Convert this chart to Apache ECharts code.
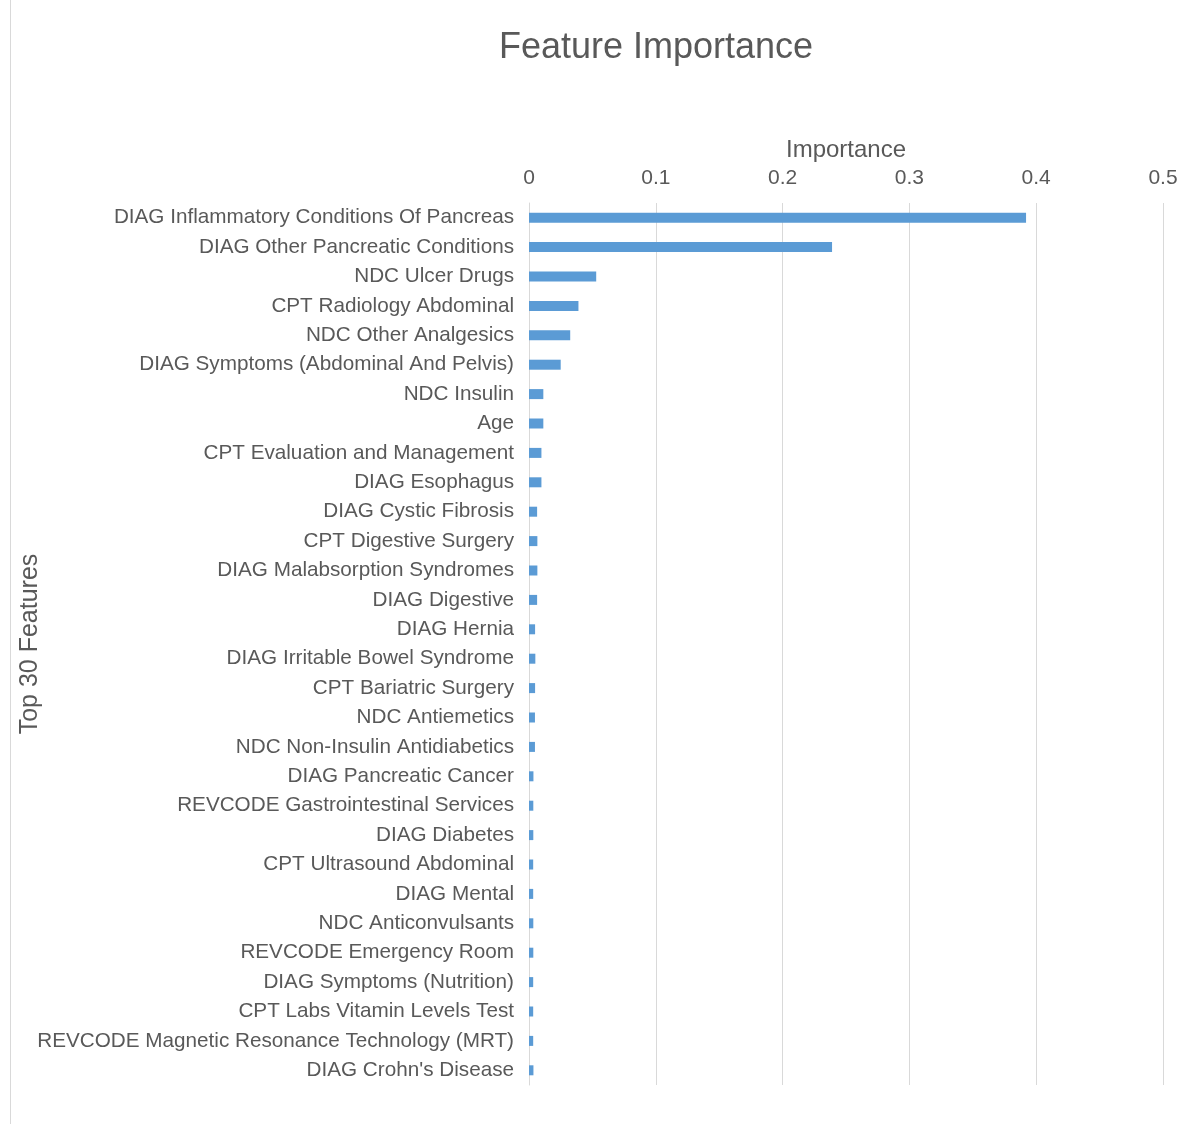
<!DOCTYPE html>
<html>
<head>
<meta charset="utf-8">
<title>Feature Importance</title>
<script src="https://cdn.jsdelivr.net/npm/echarts@6/dist/echarts.min.js"></script>
<style>
  html, body { margin: 0; padding: 0; background: #fff; }
  #chart { width: 1200px; height: 1124px; }
</style>
</head>
<body>
<div id="chart"></div>
<script>
// feature names, top to bottom
var features = [
    "DIAG Inflammatory Conditions Of Pancreas",
    "DIAG Other Pancreatic Conditions",
    "NDC Ulcer Drugs",
    "CPT Radiology Abdominal",
    "NDC Other Analgesics",
    "DIAG Symptoms (Abdominal And Pelvis)",
    "NDC Insulin",
    "Age",
    "CPT Evaluation and Management",
    "DIAG Esophagus",
    "DIAG Cystic Fibrosis",
    "CPT Digestive Surgery",
    "DIAG Malabsorption Syndromes",
    "DIAG Digestive",
    "DIAG Hernia",
    "DIAG Irritable Bowel Syndrome",
    "CPT Bariatric Surgery",
    "NDC Antiemetics",
    "NDC Non-Insulin Antidiabetics",
    "DIAG Pancreatic Cancer",
    "REVCODE Gastrointestinal Services",
    "DIAG Diabetes",
    "CPT Ultrasound Abdominal",
    "DIAG Mental",
    "NDC Anticonvulsants",
    "REVCODE Emergency Room",
    "DIAG Symptoms (Nutrition)",
    "CPT Labs Vitamin Levels Test",
    "REVCODE Magnetic Resonance Technology (MRT)",
    "DIAG Crohn's Disease"
];

var importance = [
    0.392, 0.239, 0.053, 0.039, 0.0325, 0.025, 0.0113, 0.0113, 0.0098, 0.0098,
    0.0064, 0.0066, 0.0066, 0.0064, 0.0048, 0.005, 0.0048, 0.0047, 0.0047, 0.0035,
    0.0034, 0.0034, 0.0033, 0.0033, 0.0034, 0.0034, 0.0033, 0.0033, 0.0033, 0.0035
];

var xTicks = [0, 0.1, 0.2, 0.3, 0.4, 0.5];

var textColor = '#595959';
var fontName = '"Liberation Sans", Arial, sans-serif';

var chart = echarts.init(document.getElementById('chart'));
chart.setOption({
    animation: false,
    backgroundColor: '#fff',
    title: {
        text: 'Feature Importance',
        left: 651,
        top: 25,
        textAlign: 'center',
        textStyle: { fontFamily: fontName, fontSize: 36, fontWeight: 'normal', color: textColor }
    },
    graphic: [{
        type: 'line',
        shape: { x1: 10.5, y1: 0, x2: 10.5, y2: 1124 },
        style: { stroke: '#d9d9d9', lineWidth: 1 }
    }],
    grid: { left: 529, right: 37, top: 203, bottom: 39, containLabel: false, outerBoundsMode: 'none' },
    xAxis: {
        type: 'value',
        position: 'top',
        min: xTicks[0],
        max: xTicks[xTicks.length - 1],
        interval: 0.1,
        name: 'Importance',
        nameLocation: 'middle',
        nameGap: 41,
        nameTextStyle: { fontFamily: fontName, fontSize: 24, color: textColor },
        axisLine: { show: false },
        axisTick: { show: false },
        axisLabel: {
            fontFamily: fontName, fontSize: 21, color: textColor, margin: 14,
            formatter: function (v) { return String(Math.round(v * 10) / 10); }
        },
        splitLine: { lineStyle: { color: '#d9d9d9', width: 1 } }
    },
    yAxis: {
        type: 'category',
        inverse: true,
        data: features,
        name: 'Top 30 Features',
        nameLocation: 'middle',
        nameRotate: 90,
        nameGap: 486,
        nameMoveOverlap: false,
        nameTextStyle: { fontFamily: fontName, fontSize: 25, color: textColor },
        axisLine: { show: true, lineStyle: { color: '#d9d9d9' } },
        axisTick: { show: false },
        axisLabel: { fontFamily: fontName, fontSize: 20.7, color: textColor, margin: 15 }
    },
    series: [{
        type: 'bar',
        data: importance,
        barWidth: 10,
        itemStyle: { color: '#5b9bd5' }
    }]
});
</script>
</body>
</html>
